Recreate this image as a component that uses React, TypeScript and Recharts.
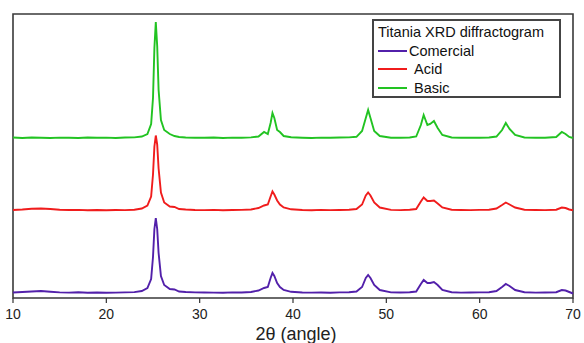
import { LineChart, Line, XAxis, YAxis, Legend, ReferenceArea, Label } from 'recharts';

// 2θ positions (degrees), shared by all three patterns
const twoTheta = [
  10, 11, 12, 13, 14, 15, 16, 17, 18, 19, 20, 21, 22, 23, 23.8, 24.4, 24.8, 25.0, 25.15, 25.3,
  25.45, 25.6, 25.85, 26.2, 26.8, 27.3, 27.8, 28.5, 29.5, 30.5, 31.5, 32.5, 33.5, 34.5, 35.5, 36.3,
  36.9, 37.3, 37.6, 37.8, 38.0, 38.3, 38.6, 39.0, 39.8, 41, 42, 43, 44, 45, 46, 46.8, 47.4, 47.8,
  48.05, 48.3, 48.7, 49.3, 50.5, 51.5, 52.5, 53.2, 53.7, 54.0, 54.4, 54.7, 55.1, 55.5, 56.0, 57,
  58, 59, 60, 61, 61.8, 62.4, 62.8, 63.2, 63.8, 64.8, 66, 67, 68.2, 68.8, 69.2, 69.6, 70,
];

// intensities above each pattern's own baseline (a.u.)
const comercial = [
  0.5, 1, 1.5, 2, 1.2, 0.6, 0.4, 0.7, 0.3, 0.5, 0.3, 0.4, 0.6, 0.9, 2, 5, 14, 36, 64, 75,
  64, 40, 17, 8, 4, 3.5, 1.5, 1, 0.6, 0.5, 0.4, 0.3, 0.6, 0.5, 1, 2.5,
  5, 6, 15, 20, 17, 10, 6, 3, 1.2, 0.5, 0.4, 0.5, 0.3, 0.6, 0.8, 1.5, 6, 15,
  18, 15, 8, 3, 0.6, 0.5, 0.7, 1.5, 9, 13, 10, 10, 11, 8, 3, 0.8,
  0.4, 0.5, 0.6, 0.7, 2, 6, 9, 7, 3, 0.8, 0.4, 0.5, 0.8, 3, 2.5, 1, -0.5,
];
const acid = [
  0.5, 1, 1.8, 2, 1.5, 0.8, 0.5, 0.6, 0.3, 0.5, 0.2, 0.5, 0.4, 0.8, 2, 5, 14, 36, 64, 75,
  66, 42, 18, 8, 4, 3.5, 1.5, 1, 0.5, 0.4, 0.6, 0.2, 0.5, 0.6, 1, 2.5,
  5, 6, 14, 19, 16, 10, 6, 3, 1.2, 0.5, 0.3, 0.6, 0.4, 0.5, 0.8, 1.5, 6, 15,
  18, 15, 8, 3, 0.6, 0.4, 0.8, 1.5, 9, 13, 9.5, 9.5, 10, 7, 3, 0.8,
  0.5, 0.4, 0.6, 0.8, 2, 5.5, 8, 6, 3, 0.8, 0.5, 0.4, 0.8, 3, 2.5, 1, 0.3,
];
const basic = [
  0.5, 0, 0.5, 0.3, 0, 0.4, 0.2, 0, 0.5, 0.2, 0.4, 0, 0.5, 0.6, 1.5, 4, 14, 40, 90, 116,
  92, 48, 18, 8, 4, 2, 1, 0.5, 0.3, 0.2, 0.5, 0, 0.4, 0.2, 0.6, 1.5,
  6, 4, 15, 25, 20, 8, 6, 2, 0.8, 0.3, 0, 0.4, 0.2, 0.5, 0.6, 1.2, 7, 20,
  28, 20, 7, 2, 0.3, 0.2, 0.5, 1.5, 13, 23, 13, 14, 17, 10, 3, 0.5,
  0.2, 0.4, 0.2, 0.5, 1.5, 8, 15, 9, 3, 0.5, 0.2, 0.3, 1, 6, 4, 1, 0,
];

// vertical stacking offsets of the three patterns
const offsets = { comercial: 5, acid: 87.5, basic: 160 };
const xTicks = [10, 20, 30, 40, 50, 60, 70];
const legendOrder = ['Comercial', 'Acid', 'Basic'];

const data = twoTheta.map((t, i) => ({
  t,
  comercial: comercial[i] + offsets.comercial,
  acid: acid[i] + offsets.acid,
  basic: basic[i] + offsets.basic,
}));

const renderLegend = (props: any) => {
  const items = [...(props.payload || [])].sort(
    (a: any, b: any) => legendOrder.indexOf(a.value) - legendOrder.indexOf(b.value)
  );
  return (
    <div
      style={{
        border: '2px solid #444',
        background: '#fff',
        width: 189,
        height: 79,
        padding: '2px 0 0 4px',
        boxSizing: 'border-box',
        fontSize: 14.5,
        lineHeight: '18.5px',
        color: '#111',
        textAlign: 'left',
      }}
    >
      <div>Titania XRD diffractogram</div>
      {items.map((entry: any) => (
        <div key={entry.value} style={{ display: 'flex', alignItems: 'center' }}>
          <span style={{ display: 'inline-block', width: 29, height: 2, background: entry.color }} />
          <span style={{ marginLeft: entry.value === 'Comercial' ? 2 : 7 }}>{entry.value}</span>
        </div>
      ))}
    </div>
  );
};

export default function App() {
  return (
    <div style={{ position: 'absolute', left: 0, top: 0, fontFamily: '"Liberation Sans", Arial, sans-serif', background: '#fff' }}>
      <LineChart width={584} height={343} data={data} margin={{ top: 14, right: 11, bottom: 0, left: 13 }}>
        <XAxis
          dataKey="t"
          type="number"
          domain={[10, 70]}
          ticks={xTicks}
          axisLine={false}
          tickLine={{ stroke: '#333', strokeWidth: 1.2 }}
          tickSize={5}
          tickMargin={6}
          height={45}
          tick={{ fontSize: 14, fill: '#222' }}
          interval={0}
        >
          <Label value="2θ (angle)" position="insideBottom" offset={3} dx={3} style={{ fontSize: 18, fill: '#222' }} />
        </XAxis>
        <YAxis type="number" domain={[0, 284]} hide />
        <ReferenceArea x1={10} x2={70} y1={0} y2={284} fill="none" stroke="#3a3a3a" strokeWidth={1.6} ifOverflow="visible" />
        <Legend
          content={renderLegend}
          layout="horizontal"
          verticalAlign="middle"
          align="center"
          wrapperStyle={{ position: 'absolute', left: 372, top: 19, width: 'auto', height: 'auto' }}
        />
        <Line type="linear" dataKey="comercial" name="Comercial" stroke="#5220aa" strokeWidth={1.9} dot={false} isAnimationActive={false} />
        <Line type="linear" dataKey="acid" name="Acid" stroke="#f01c1c" strokeWidth={1.9} dot={false} isAnimationActive={false} />
        <Line type="linear" dataKey="basic" name="Basic" stroke="#22c322" strokeWidth={1.9} dot={false} isAnimationActive={false} />
      </LineChart>
    </div>
  );
}
